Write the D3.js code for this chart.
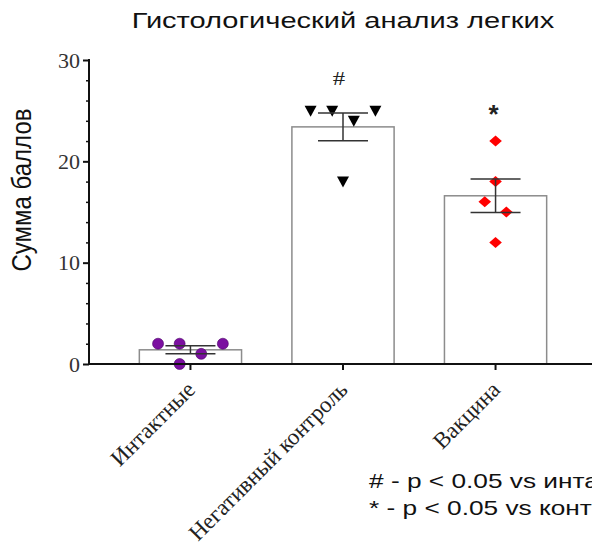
<!DOCTYPE html>
<html>
<head>
<meta charset="utf-8">
<script src="https://cdn.jsdelivr.net/npm/d3@7"></script>
<style>
  body { margin: 0; background: #fff; overflow: hidden; }
  svg { display: block; }
</style>
</head>
<body>
<svg id="chart"></svg>
<script>
const width = 592;
const height = 547;

// groups and individual scores
const groups = ["Интактные", "Негативный контроль", "Вакцина"];
const intactScores = [2, 2, 2, 1, 0];
const controlScores = [25, 25, 25, 24, 18];
const vaccineScores = [22, 18, 16, 15, 12];
// horizontal slot of each dot (scatter spread like in prism)
const intactSlots = [-3, -1, 3, 1, -1];
const controlSlots = [-3, -1, 3, 1, 0];
const vaccineSlots = [0, 0, -1, 1, 0];
const marks = ["#", "", "*"];
const yTicks = [0, 10, 20, 30];
const notes = ["# - p < 0.05 vs интактные", "* - p < 0.05 vs контроль"];

const series = [
    { name: groups[0], vals: intactScores, slots: intactSlots, shape: "circle", mark: marks[1] },
    { name: groups[1], vals: controlScores, slots: controlSlots, shape: "tri", mark: marks[0] },
    { name: groups[2], vals: vaccineScores, slots: vaccineSlots, shape: "diamond", mark: marks[2] }
];
series.forEach(s => {
    s.mean = d3.mean(s.vals);
    s.sem = d3.deviation(s.vals) / Math.sqrt(s.vals.length);
});

const svg = d3.select('#chart').attr('width', width).attr('height', height);

var x = d3.scaleBand()
    .domain(groups)
    .range([89, 597])
    .paddingInner(0.33)
    .paddingOuter(0.33);

var y = d3.scaleLinear()
    .domain([0, 30])
    .range([364, 60]);

const slotW = 10.8;

// bars
svg.selectAll('.bar')
    .data(series)
    .enter().append('rect')
    .attr('x', d => x(d.name))
    .attr('y', d => y(d.mean))
    .attr('width', x.bandwidth())
    .attr('height', d => y(0) - y(d.mean))
    .attr('fill', '#fff')
    .attr('stroke', '#8c8c8c')
    .attr('stroke-width', 1.5);

// dots
const cx = d => x(d.name) + x.bandwidth() / 2;
series.forEach(s => {
    const g = svg.append('g');
    s.vals.forEach((v, i) => {
        const px = cx(s) + s.slots[i] * slotW;
        const py = y(v);
        if (s.shape == "circle") {
            g.append('circle').attr('cx', px).attr('cy', py).attr('r', 5.5)
                .attr('fill', '#7b0fa0').attr('stroke', '#4a0066').attr('stroke-width', 0.6);
        } else if (s.shape == "tri") {
            g.append('path')
                .attr('d', `M${px - 6},${py - 5}L${px + 6},${py - 5}L${px},${py + 6}Z`)
                .attr('fill', '#000');
        } else {
            g.append('path')
                .attr('d', `M${px},${py - 5.5}L${px + 6.3},${py}L${px},${py + 5.5}L${px - 6.3},${py}Z`)
                .attr('fill', '#ff0000');
        }
    });
});

// error bars (mean +- SEM)
series.forEach(s => {
    const c = cx(s);
    const g = svg.append('g').attr('stroke', '#333').attr('stroke-width', 1.5);
    g.append('line').attr('x1', c).attr('x2', c).attr('y1', y(s.mean + s.sem)).attr('y2', y(s.mean - s.sem));
    [s.mean + s.sem, s.mean - s.sem].forEach(v => {
        g.append('line').attr('x1', c - 25).attr('x2', c + 25).attr('y1', y(v)).attr('y2', y(v));
    });
});

// significance marks
svg.append('text').attr('transform', `translate(${cx(series[1]) - 4},85) scale(1.3,1)`)
    .attr('text-anchor', 'middle').attr('font-family', 'Liberation Serif, Times New Roman, serif')
    .attr('font-size', 19).attr('fill', '#222').text(series[1].mark);
svg.append('text').attr('x', cx(series[2]) - 2).attr('y', 123)
    .attr('text-anchor', 'middle').attr('font-family', 'Liberation Sans, Arial, sans-serif')
    .attr('font-weight', 'bold')
    .attr('font-size', 26).attr('fill', '#222').text(series[2].mark);

// y axis
const yAxis = svg.append('g')
    .attr('transform', 'translate(89,0)')
    .call(d3.axisLeft(y).tickValues(yTicks).tickSize(6).tickPadding(3));
yAxis.select('.domain').attr('stroke', '#111').attr('stroke-width', 2).attr('d', 'M0,59V364');
yAxis.selectAll('.tick line').attr('stroke', '#111').attr('stroke-width', 2);
yAxis.selectAll('.tick text')
    .attr('font-family', 'Liberation Serif, Times New Roman, serif')
    .attr('font-size', 22).attr('fill', '#333');
svg.append('g')
    .attr('transform', 'translate(89,0)')
    .call(d3.axisLeft(y).tickValues(d3.range(2, 30, 2).filter(v => v % 10 != 0)).tickSize(3).tickFormat(''))
    .call(g => g.select('.domain').remove())
    .selectAll('.tick line').attr('stroke', '#111').attr('stroke-width', 1.5);

// x axis
const xAxis = svg.append('g')
    .attr('transform', 'translate(0,364)')
    .call(d3.axisBottom(x).tickSize(6).tickFormat(''));
xAxis.select('.domain').attr('stroke', '#111').attr('stroke-width', 2).attr('d', 'M88,0H592');
xAxis.selectAll('.tick line').attr('stroke', '#111').attr('stroke-width', 2);

svg.selectAll('.xlab')
    .data(groups)
    .enter().append('text')
    .attr('transform', d => `translate(${x(d) + x.bandwidth() / 2 + 6},391) rotate(-45)`)
    .attr('text-anchor', 'end')
    .attr('font-family', 'Liberation Serif, Times New Roman, serif')
    .attr('font-size', 23).attr('fill', '#222')
    .text(d => d);

// titles
svg.append('text').attr('transform', 'translate(343,28) scale(1.32,1)').attr('text-anchor', 'middle')
    .attr('font-family', 'Liberation Sans, Arial, sans-serif').attr('font-size', 22).attr('fill', '#111')
    .text('Гистологический анализ легких');

svg.append('text').attr('transform', 'translate(31,190) rotate(-90) scale(1,1.15)').attr('text-anchor', 'middle')
    .attr('font-family', 'Liberation Sans, Arial, sans-serif').attr('font-size', 24).attr('fill', '#111')
    .text('Сумма баллов');

svg.selectAll('.note')
    .data(notes)
    .enter().append('text')
    .attr('transform', (d, i) => `translate(369,${488 + i * 26.5}) scale(1.25,1)`)
    .attr('font-family', 'Liberation Sans, Arial, sans-serif').attr('font-size', 21).attr('fill', '#111')
    .text(d => d);
</script>
</body>
</html>
